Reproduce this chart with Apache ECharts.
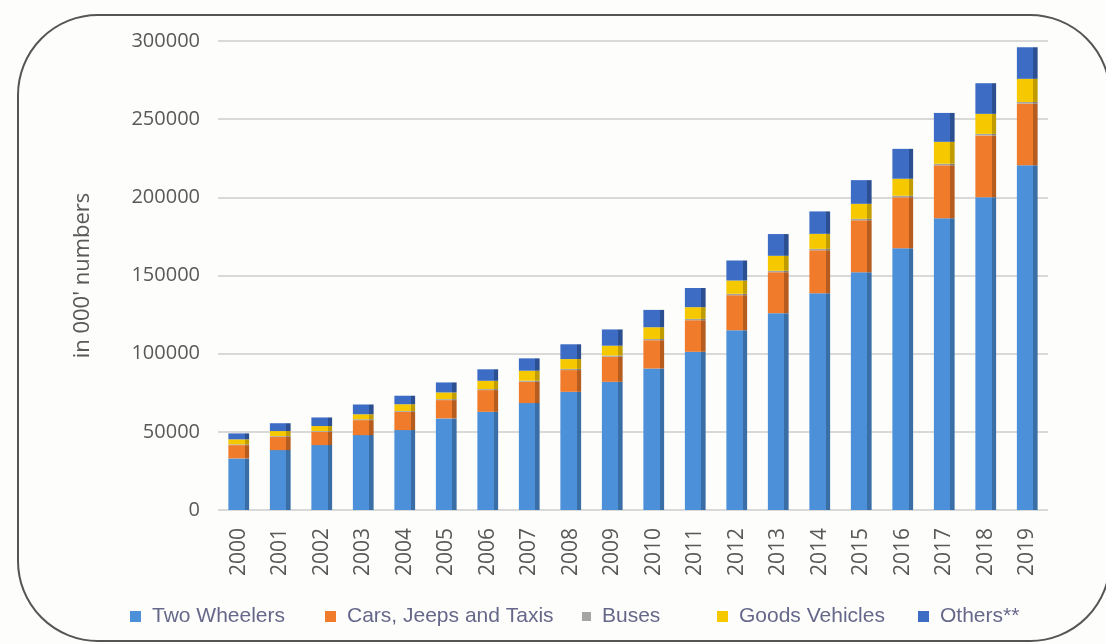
<!DOCTYPE html>
<html>
<head>
<meta charset="utf-8">
<script src="https://cdn.jsdelivr.net/npm/echarts@6/dist/echarts.min.js"></script>
<style>
html,body{margin:0;padding:0;background:#fdfdfc;}
#c{width:1106px;height:644px;}
</style>
</head>
<body>
<div id="c"></div>
<script>
var years = ['2000','2001','2002','2003','2004','2005','2006','2007','2008','2009','2010','2011','2012','2013','2014','2015','2016','2017','2018','2019'];
var twoWheelers = [33000, 38300, 41500, 47900, 51100, 58600, 62800, 68400, 75600, 82000, 90500, 101200, 115000, 125900, 138700, 152100, 167400, 186600, 200000, 220500];
var cars = [8500, 8500, 8500, 9600, 11700, 11700, 13900, 13600, 13900, 16000, 18100, 20200, 22400, 26200, 27400, 33200, 32600, 33900, 39600, 39500];
var buses = [500, 500, 500, 550, 550, 600, 650, 700, 750, 800, 800, 850, 900, 900, 950, 950, 1000, 1000, 1000, 1000];
var goods = [3200, 3200, 3200, 3200, 4300, 4300, 5300, 6400, 6300, 6300, 7500, 7500, 8500, 9600, 9600, 9600, 10900, 14000, 12800, 14800];
var others = [3800, 5000, 5500, 6250, 5450, 6400, 7350, 7900, 9450, 10400, 11100, 12250, 12800, 13900, 14350, 15150, 19100, 18500, 19600, 20200];
var yTicks = [0, 50000, 100000, 150000, 200000, 250000, 300000];
var seriesNames = ['Two Wheelers', 'Cars, Jeeps and Taxis', 'Buses', 'Goods Vehicles', 'Others**'];

var chart = echarts.init(document.getElementById('c'));

function grad(front, side) {
  return new echarts.graphic.LinearGradient(0, 0, 1, 0, [
    {offset: 0, color: front},
    {offset: 0.78, color: front},
    {offset: 0.80, color: side},
    {offset: 1, color: side}
  ]);
}
var colors = ['#4b90d8', '#f07b2a', '#a5a5a5', '#f5c800', '#3d6cc4'];
var sides = ['#3a6ea6', '#b65c1f', '#7c7c7c', '#c09c00', '#2c4f91'];
var datas = [twoWheelers, cars, buses, goods, others];

var legendLefts = [125, 320, 577, 712, 913];
var legendText = {color: '#66688a', fontSize: 21, fontFamily: 'Liberation Sans', padding: [0, 0, 0, 6]};

var series = seriesNames.map(function (n, i) {
  return {
    name: n,
    type: 'bar',
    stack: 'total',
    barWidth: '50%',
    data: datas[i],
    itemStyle: {color: grad(colors[i], sides[i])}
  };
});

var legends = seriesNames.map(function (n, i) {
  return {
    data: [{name: n, itemStyle: {color: colors[i]}}],
    left: legendLefts[i],
    top: 601,
    itemWidth: i === 2 ? 9 : 11,
    itemHeight: i === 2 ? 9 : 11,
    icon: 'rect',
    textStyle: legendText
  };
});

chart.setOption({
  backgroundColor: '#fdfdfc',
  animation: false,
  graphic: [{
    type: 'rect',
    shape: {x: 18, y: 15, width: 1092, height: 626, r: 80},
    style: {fill: 'none', stroke: '#555', lineWidth: 2},
    z: 100
  }],
  grid: {left: 218, right: 58, top: 41, bottom: 134},
  legend: legends,
  xAxis: {
    type: 'category',
    data: years,
    axisLine: {show: false},
    axisTick: {show: false},
    axisLabel: {rotate: 90, color: '#595959', fontSize: 21, fontFamily: 'Open Sans', margin: 18}
  },
  yAxis: {
    type: 'value',
    min: yTicks[0],
    max: yTicks[yTicks.length - 1],
    interval: 50000,
    name: "in 000' numbers",
    nameLocation: 'middle',
    nameGap: 124,
    nameRotate: 90,
    nameTextStyle: {color: '#595959', fontSize: 22, fontFamily: 'Open Sans'},
    axisLine: {show: false},
    axisTick: {show: false},
    axisLabel: {color: '#595959', fontSize: 20, fontFamily: 'Open Sans', margin: 18,
      formatter: function (v) { return String(v); }},
    splitLine: {lineStyle: {color: '#d9d9d9', width: 2}}
  },
  series: series
});
</script>
</body>
</html>
